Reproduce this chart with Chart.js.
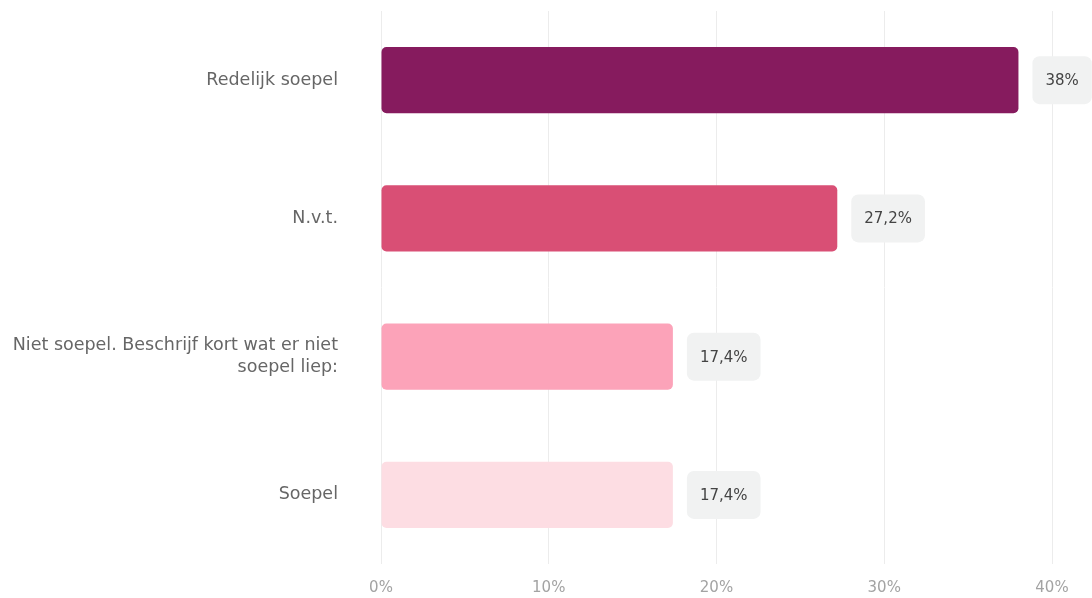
<!DOCTYPE html>
<html>
<head>
<meta charset="utf-8">
<script src="https://cdn.jsdelivr.net/npm/chart.js@4/dist/chart.umd.min.js"></script>
<style>
    html, body { margin: 0; padding: 0; background: #fff; }
    #wrap { width: 1092px; height: 598px; }
</style>
</head>
<body>
<div id="wrap"><canvas id="myChart"></canvas></div>
<script>
// Data
var categories = [
    'Redelijk soepel',
    'N.v.t.',
    ['Niet soepel. Beschrijf kort wat er niet', 'soepel liep:'],
    'Soepel'
];
var values = [38, 27.2, 17.4, 17.4];
var barColors = ['#861b5e', '#d94f75', '#fca3b9', '#fddde3'];
var tickValues = [0, 10, 20, 30, 40];

var fontFamily = '"DejaVu Sans", Verdana, sans-serif';

function fmt(v) {
    return String(v).replace('.', ',') + '%';
}

// Value badges next to each bar
var badges = {
    id: 'badges',
    afterDatasetsDraw: function (chart) {
        var ctx = chart.ctx;
        var meta = chart.getDatasetMeta(0);
        ctx.save();
        ctx.font = '15px ' + fontFamily;
        meta.data.forEach(function (bar, i) {
            var text = fmt(values[i]);
            var w = ctx.measureText(text).width + 26,
                h = 48,
                x = bar.x + 14,
                y = bar.y - h / 2;
            ctx.fillStyle = '#f1f2f2';
            ctx.beginPath();
            ctx.roundRect(x, y, w, h, 7);
            ctx.fill();
            ctx.fillStyle = '#444';
            ctx.textAlign = 'center';
            ctx.textBaseline = 'middle';
            ctx.fillText(text, x + w / 2, bar.y + 1);
        });
        ctx.restore();
    }
};

var ctx = document.getElementById('myChart').getContext('2d');
var myChart = new Chart(ctx, {
    type: 'bar',
    data: {
        labels: categories,
        datasets: [{
            data: values,
            backgroundColor: barColors,
            borderRadius: 5,
            borderSkipped: false,
            barPercentage: 0.8,
            categoryPercentage: 0.6
        }]
    },
    options: {
        indexAxis: 'y',
        responsive: true,
        maintainAspectRatio: false,
        animation: false,
        layout: { padding: { top: 11, right: 40, left: 0, bottom: 0 } },
        plugins: {
            legend: { display: false },
            tooltip: { enabled: false }
        },
        scales: {
            x: {
                min: 0,
                max: 40,
                afterBuildTicks: function (scale) {
                    scale.ticks = tickValues.map(function (v) { return { value: v }; });
                },
                afterFit: function (scale) {
                    scale.height = 34;
                    scale.paddingLeft = 0;
                    scale.paddingRight = 0;
                },
                grid: { color: '#ececec', drawTicks: false },
                border: { display: false },
                ticks: {
                    padding: 15,
                    color: '#a3a3a3',
                    font: { family: fontFamily, size: 15 },
                    callback: function (v) { return v + '%'; }
                }
            },
            y: {
                afterFit: function (scale) {
                    scale.width = 381;
                    scale.paddingTop = 0;
                    scale.paddingBottom = 0;
                },
                grid: { display: false },
                border: { display: false },
                ticks: {
                    padding: 35,
                    color: '#666',
                    font: { family: fontFamily, size: 17.5, lineHeight: 1.25 }
                }
            }
        }
    },
    plugins: [badges]
});
</script>
</body>
</html>
